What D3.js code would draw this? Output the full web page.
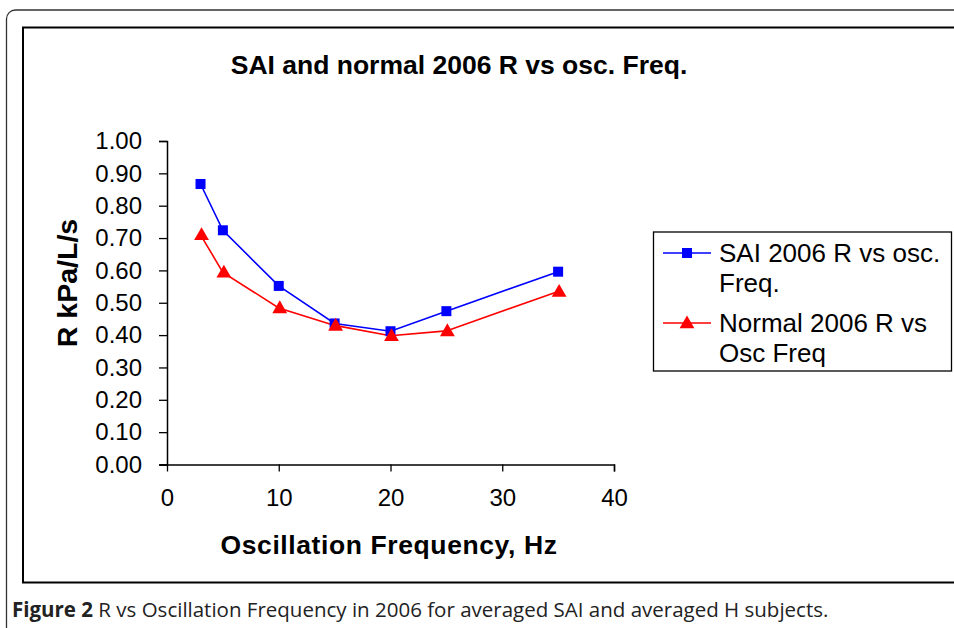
<!DOCTYPE html>
<html>
<head>
<meta charset="utf-8">
<script src="https://cdn.jsdelivr.net/npm/d3@7"></script>
<style>
  body { margin: 0; background: #fff; }
  svg { display: block; }
</style>
</head>
<body>
<div id="chart"></div>
<script>
// data
var freqs = [3, 5, 10, 15, 20, 25, 35];
var saiR = [0.867, 0.724, 0.552, 0.436, 0.412, 0.474, 0.596];
var normalR = [0.710, 0.594, 0.484, 0.430, 0.398, 0.413, 0.535];
var yTicks = [0, 0.1, 0.2, 0.3, 0.4, 0.5, 0.6, 0.7, 0.8, 0.9, 1.0];
var xTicks = [0, 10, 20, 30, 40];
var seriesNames = [["SAI 2006 R vs osc.", "Freq."], ["Normal 2006 R vs", "Osc Freq"]];

var width = 954, height = 628;
var svg = d3.select("#chart").append("svg")
  .attr("width", width)
  .attr("height", height);

// outer rounded frame + inner chart frame
svg.append("rect")
  .attr("x", 6.5).attr("y", 10)
  .attr("width", 1000).attr("height", 640)
  .attr("rx", 9)
  .attr("fill", "none")
  .attr("stroke", "#333")
  .attr("stroke-width", 1.3);

svg.append("rect")
  .attr("x", 23).attr("y", 27.5)
  .attr("width", 1000).attr("height", 555)
  .attr("fill", "#fff")
  .attr("stroke", "#000")
  .attr("stroke-width", 2);

var font = "Liberation Sans, Arial, sans-serif";

svg.append("text")
  .attr("x", 459).attr("y", 74)
  .attr("text-anchor", "middle")
  .style("font-family", font)
  .style("font-weight", "bold")
  .style("font-size", "26.5px")
  .text("SAI and normal 2006 R vs osc. Freq.");

var x = d3.scaleLinear().domain([0, 40]).range([167, 614]);
var y = d3.scaleLinear().domain([0, 1]).range([464.5, 141]);

var yAxis = svg.append("g")
  .attr("transform", "translate(167,0)")
  .call(d3.axisLeft(y).tickValues(yTicks).tickSize(8).tickPadding(17)
    .tickFormat(d3.format(".2f")));
var xAxis = svg.append("g")
  .attr("transform", "translate(0,464.5)")
  .call(d3.axisBottom(x).tickValues(xTicks).tickSize(7).tickPadding(17)
    .tickFormat(d3.format("d")));

[xAxis, yAxis].forEach(function(a) {
  a.select(".domain").attr("stroke", "#000").attr("stroke-width", 1.5);
  a.selectAll(".tick line").attr("stroke", "#000").attr("stroke-width", 1.3);
  a.selectAll(".tick text")
    .attr("fill", "#000")
    .style("font-family", font)
    .style("font-size", "24px");
});
// small cross at origin like the original
xAxis.select(".domain").attr("d", "M160,0.5H614.5V7");

svg.append("text")
  .attr("x", 389).attr("y", 554)
  .attr("text-anchor", "middle")
  .style("font-family", font)
  .style("font-weight", "bold")
  .style("font-size", "26.5px")
  .style("letter-spacing", "0.6px")
  .text("Oscillation Frequency, Hz");

svg.append("text")
  .attr("transform", "translate(77,283) rotate(-90)")
  .attr("text-anchor", "middle")
  .style("font-family", font)
  .style("font-weight", "bold")
  .style("font-size", "28.5px")
  .text("R kPa/L/s");

var line = d3.line()
  .x(function(d) { return x(d[0]); })
  .y(function(d) { return y(d[1]); });

var saiPts = freqs.map(function(f, i) { return [f, saiR[i]]; });
var normPts = freqs.map(function(f, i) { return [f, normalR[i]]; });

var squareSym = d3.symbol().type(d3.symbolSquare).size(100);
var triSym = d3.symbol().type(d3.symbolTriangle).size(95);

svg.append("path").datum(saiPts)
  .attr("d", line).attr("fill", "none")
  .attr("stroke", "#0000ff").attr("stroke-width", 1.6);
svg.append("path").datum(normPts)
  .attr("d", line).attr("fill", "none")
  .attr("stroke", "#ff0000").attr("stroke-width", 1.6);

svg.selectAll(".sq").data(saiPts).enter().append("path")
  .attr("class", "sq")
  .attr("transform", function(d) { return "translate(" + x(d[0]) + "," + y(d[1]) + ")"; })
  .attr("d", squareSym)
  .attr("fill", "#0000ff");
svg.selectAll(".tri").data(normPts).enter().append("path")
  .attr("class", "tri")
  .attr("transform", function(d) { return "translate(" + (x(d[0]) + 1) + "," + (y(d[1]) + 1) + ")"; })
  .attr("d", triSym)
  .attr("fill", "#ff0000");

// legend
var lg = svg.append("g");
lg.append("rect")
  .attr("x", 653.5).attr("y", 232)
  .attr("width", 298).attr("height", 139)
  .attr("fill", "#fff")
  .attr("stroke", "#000").attr("stroke-width", 1.3);

var legendY = [253, 323];
var colors = ["#0000ff", "#ff0000"];
var syms = [squareSym, triSym];
seriesNames.forEach(function(lines, i) {
  lg.append("line")
    .attr("x1", 663).attr("x2", 711)
    .attr("y1", legendY[i]).attr("y2", legendY[i])
    .attr("stroke", colors[i]).attr("stroke-width", 1.6);
  lg.append("path")
    .attr("transform", "translate(687," + (legendY[i] + (i ? 1 : 0)) + ")")
    .attr("d", syms[i])
    .attr("fill", colors[i]);
  var t = lg.append("text")
    .attr("x", 719).attr("y", legendY[i] + 9)
    .style("font-family", font)
    .style("font-size", "26px");
  lines.forEach(function(s, j) {
    t.append("tspan").attr("x", 719).attr("dy", j ? 30 : 0).text(s);
  });
});

// caption
var cap = svg.append("text")
  .attr("x", 12).attr("y", 617)
  .attr("fill", "#222")
  .style("font-family", "Open Sans, Noto Sans, sans-serif")
  .style("font-size", "20.5px");
cap.append("tspan").style("font-weight", "bold").text("Figure 2");
cap.append("tspan").text(" R vs Oscillation Frequency in 2006 for averaged SAI and averaged H subjects.");
</script>
</body>
</html>
